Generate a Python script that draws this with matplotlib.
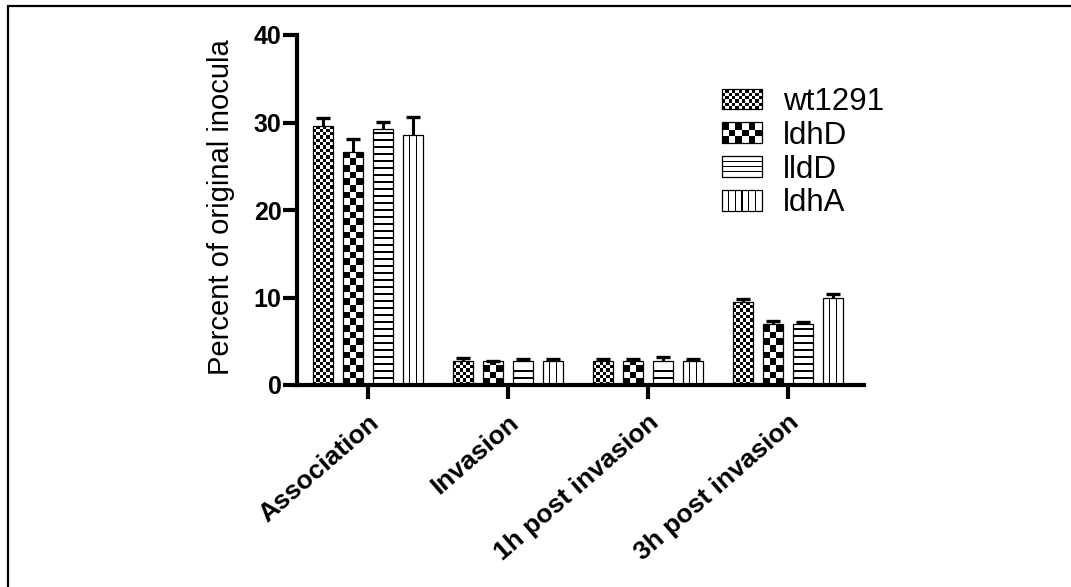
import numpy as np
import matplotlib
matplotlib.use("Agg")
import matplotlib.pyplot as plt
from matplotlib.patches import Rectangle, Patch
from matplotlib.collections import PatchCollection
from matplotlib.legend_handler import HandlerBase

# ---- data -------------------------------------------------------------
categories = ["Association", "Invasion", "1h post invasion", "3h post invasion"]
strains = ["wt1291", "ldhD", "lldD", "ldhA"]

wt1291 = [29.6, 2.8, 2.8, 9.5]
wt1291_err = [0.9, 0.25, 0.2, 0.3]
ldhD = [26.6, 2.7, 2.7, 7.0]
ldhD_err = [1.5, 0.05, 0.25, 0.3]
lldD = [29.3, 2.7, 2.75, 7.0]
lldD_err = [0.8, 0.25, 0.4, 0.25]
ldhA = [28.6, 2.8, 2.8, 10.0]
ldhA_err = [2.0, 0.2, 0.2, 0.45]

y_ticks = [0, 10, 20, 30, 40]
y_label = "Percent of original inocula"

means = [wt1291, ldhD, lldD, ldhA]
errors = [wt1291_err, ldhD_err, lldD_err, ldhA_err]

# fill style of each strain: (pattern kind, cell / spacing in pixels)
fills = {
    "wt1291": ("checker", 3.33),
    "ldhD": ("checker", 6.67),
    "lldD": ("hlines", 7.0),
    "ldhA": ("vlines", 6.67),
}

plt.rcParams["font.family"] = ["Liberation Sans", "DejaVu Sans"]

W, H, DPI = 1071, 587, 100
fig = plt.figure(figsize=(W / DPI, H / DPI), dpi=DPI)

# axes placed in pixel terms
ax_l, ax_r, ax_b, ax_t = 297, 864, 385, 35
ax = fig.add_axes([ax_l / W, 1 - ax_b / H, (ax_r - ax_l) / W, (ax_b - ax_t) / H])

group_px = 140.0
x_lo = -(368 - ax_l) / group_px
x_hi = x_lo + (ax_r - ax_l) / group_px
ax.set_xlim(x_lo, x_hi)
ax.set_ylim(0, 40)

bar_w = 20 / group_px
pitch = 30 / group_px
x = np.arange(len(categories))

sx = ax.transData.transform((1, 0))[0] - ax.transData.transform((0, 0))[0]
sy = ax.transData.transform((0, 1))[1] - ax.transData.transform((0, 0))[1]


def pattern_cells(kind, size, x0, y0, w, h, sx, sy, lw_px=1.5):
    """Black cells making up a fill pattern inside box (x0, y0, w, h)."""
    out = []
    if kind == "checker":
        cw, ch = size / sx, size / sy
        ncol = int(np.ceil(w / cw - 1e-6))
        nrow = int(np.ceil(h / ch - 1e-6))
        for i in range(ncol):
            for j in range(nrow):
                if (i + j) % 2 == 0:
                    xx, yy = x0 + i * cw, y0 + j * ch
                    out.append((xx, yy, min(cw, x0 + w - xx), min(ch, y0 + h - yy)))
    elif kind == "hlines":
        step, t = size / sy, lw_px / sy
        yy = y0 + step
        while yy < y0 + h - 0.45 * step:
            out.append((x0, yy - t / 2, w, t))
            yy += step
    elif kind == "vlines":
        step, t = size / sx, lw_px / sx
        xx = x0 + step
        while xx < x0 + w - 0.45 * step:
            out.append((xx - t / 2, y0, t, h))
            xx += step
    return out


for k, name in enumerate(strains):
    xs = x + (k - 1.5) * pitch
    vals = np.array(means[k])
    errs = np.array(errors[k])
    bars = ax.bar(xs, vals, width=bar_w, facecolor="none", edgecolor="black",
                  linewidth=0.9, zorder=3)
    kind, size = fills[name]
    cells = []
    for b in bars:
        cells += pattern_cells(kind, size, b.get_x(), 0, b.get_width(), b.get_height(), sx, sy)
    pc = PatchCollection([Rectangle((c[0], c[1]), c[2], c[3]) for c in cells],
                         facecolor="black", edgecolor="none", zorder=2.5)
    ax.add_collection(pc)
    eb = ax.errorbar(xs, vals, yerr=[np.zeros_like(errs), errs], fmt="none",
                     ecolor="black", elinewidth=2.2, capsize=4.7, capthick=2.4, zorder=4)
    eb[1][0].set_visible(False)

ax.set_xlim(x_lo, x_hi)
ax.set_ylim(0, 40)

# axes styling
for side in ("top", "right"):
    ax.spines[side].set_visible(False)
for side in ("left", "bottom"):
    ax.spines[side].set_linewidth(3)
ax.tick_params(axis="both", direction="out", length=10, width=3, pad=1)
ax.tick_params(axis="x", pad=8)

ax.set_yticks(y_ticks)
ax.set_yticklabels([str(v) for v in y_ticks], fontweight="bold", fontsize=18)
ax.set_xticks(x)
ax.set_xticklabels(categories, rotation=41, ha="right", rotation_mode="anchor",
                   fontweight="bold", fontsize=19)

ax.set_ylabel(y_label, fontsize=21, va="center", ha="center")
ax.yaxis.set_label_coords((221 - ax_l) / (ax_r - ax_l), (ax_b - 207.5) / (ax_b - ax_t))


# legend with the same fill patterns
class PatternHandler(HandlerBase):
    def __init__(self, kind, size, **kw):
        super().__init__(**kw)
        self.kind, self.size = kind, size

    def create_artists(self, legend, orig_handle, xdescent, ydescent, width, height,
                       fontsize, trans):
        px = legend.figure.dpi / 72.0
        x0, y0 = -xdescent, -ydescent
        size = 5.0 if self.kind == "hlines" else self.size
        arts = [Rectangle((x0, y0), width, height, facecolor="white", edgecolor="none",
                          transform=trans)]
        for c in pattern_cells(self.kind, size, x0, y0, width, height, px, px, lw_px=1.3):
            arts.append(Rectangle((c[0], c[1]), c[2], c[3], facecolor="black",
                                  edgecolor="none", transform=trans))
        arts.append(Rectangle((x0, y0), width, height, fill=False, edgecolor="black",
                              linewidth=0.9, transform=trans))
        return arts


proxies = [Patch(facecolor="white", edgecolor="black", label=n) for n in strains]
handler_map = {p: PatternHandler(*fills[n]) for p, n in zip(proxies, strains)}
leg_fs = 22.5
fs_px = leg_fs * DPI / 72
ax.legend(handles=proxies, handler_map=handler_map, frameon=False, fontsize=leg_fs,
          loc="upper left", bbox_to_anchor=(722 / W, 1 - 87 / H),
          bbox_transform=fig.transFigure, borderpad=0, borderaxespad=0,
          handlelength=40 / fs_px, handleheight=20 / fs_px,
          handletextpad=21 / fs_px, labelspacing=0.12)

# outer frame
fig.add_artist(Rectangle((8 / W, -0.1), 1.2, 1.1 - 6 / H, transform=fig.transFigure,
                         fill=False, edgecolor="black", linewidth=1.6))

fig.savefig("out.png", dpi=DPI)
